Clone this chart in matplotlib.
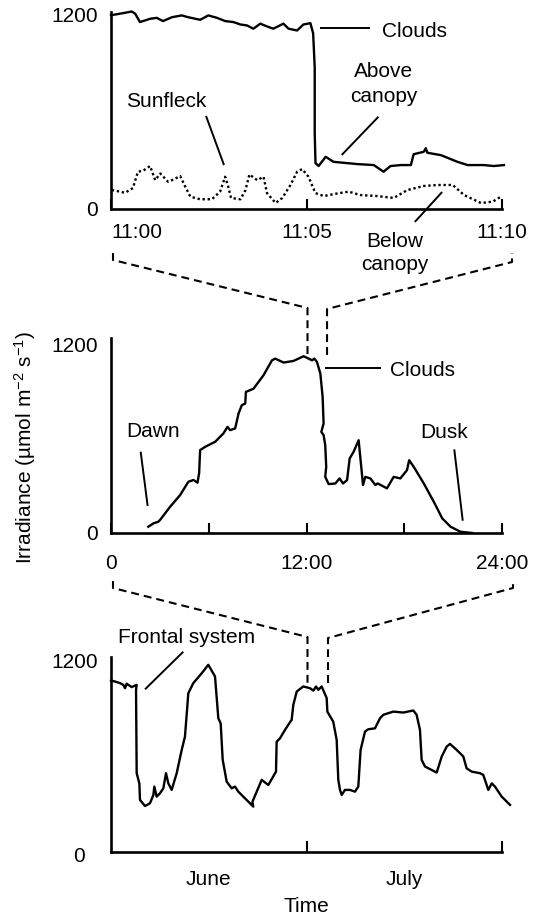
import matplotlib
matplotlib.use('Agg')
import matplotlib.pyplot as plt
from matplotlib.lines import Line2D
import matplotlib.transforms as mtransforms

plt.rcParams['font.family'] = ['Liberation Sans', 'DejaVu Sans']
plt.rcParams['mathtext.fontset'] = 'custom'
plt.rcParams['mathtext.rm'] = 'Liberation Sans'
plt.rcParams['mathtext.it'] = 'Liberation Sans:italic'
plt.rcParams['mathtext.default'] = 'regular'
FS = 15

# ---------------- data ----------------
# Top panel: minutes after 11:00
above_t = [0.00, 0.31, 0.53, 0.62, 0.74, 1.00, 1.17, 1.33, 1.56, 1.81, 1.97, 2.28, 2.49, 2.71,
           2.92, 3.13, 3.31, 3.48, 3.64, 3.82, 3.99, 4.15, 4.41, 4.54, 4.76, 4.92, 5.10, 5.17,
           5.21, 5.21, 5.23, 5.31, 5.49, 5.69, 5.95, 6.30, 6.72, 6.97, 7.15, 7.41, 7.67, 7.74,
           8.00, 8.05, 8.09, 8.44, 8.86, 9.12, 9.54, 9.79, 10.05]
above_v = [1195, 1208, 1218, 1204, 1153, 1173, 1179, 1159, 1183, 1194, 1183, 1167, 1194, 1179,
           1159, 1153, 1138, 1132, 1112, 1143, 1126, 1112, 1143, 1112, 1101, 1138, 1146, 1083,
           874, 467, 283, 265, 322, 291, 285, 277, 271, 230, 265, 271, 271, 338,
           353, 375, 347, 332, 291, 271, 271, 265, 271]
below_t = [0.02, 0.15, 0.36, 0.56, 0.69, 0.82, 1.00, 1.13, 1.26, 1.46, 1.56, 1.77, 1.90, 2.03,
           2.28, 2.58, 2.79, 2.92, 3.00, 3.07, 3.31, 3.44, 3.54, 3.74, 3.90, 3.99, 4.21, 4.38,
           4.59, 4.76, 4.89, 5.05, 5.23, 5.44, 5.79, 6.08, 6.38, 6.81, 7.23, 7.58, 8.00, 8.35,
           8.74, 9.03, 9.46, 9.76, 9.97]
below_v = [117, 111, 100, 129, 230, 236, 265, 178, 219, 168, 178, 203, 137, 76,
           60, 60, 107, 199, 137, 68, 60, 117, 213, 178, 199, 98, 37, 68,
           148, 230, 246, 199, 98, 80, 96, 107, 86, 80, 68, 117, 142, 148,
           148, 86, 37, 45, 76]

# Middle panel: hours of the day
day_h = [2.29, 2.60, 2.91, 3.01, 3.63, 4.24, 4.75, 5.06, 5.31, 5.41, 5.47, 5.78, 6.39, 6.90,
         7.15, 7.31, 7.62, 7.83, 8.03, 8.24, 8.28, 8.75, 9.36, 9.88, 10.08, 10.59, 11.20, 11.82,
         12.13, 12.34, 12.48, 12.64, 12.85, 12.99, 13.05, 12.91, 13.05, 13.15, 13.21, 13.15, 13.36,
         13.77, 14.03, 14.24, 14.49, 14.65, 14.89, 15.20, 15.47, 15.61, 15.92, 16.23, 16.37, 16.94,
         17.35, 17.76, 18.17, 18.30, 18.58, 19.20, 19.81, 20.02, 20.33, 20.84, 21.45, 22.17]
day_v = [40, 61, 72, 83, 167, 241, 326, 337, 320, 381, 527, 548, 580, 633,
         675, 654, 665, 760, 813, 823, 897, 918, 1003, 1098, 1109, 1084, 1094, 1124,
         1109, 1098, 1109, 1088, 1014, 865, 696, 643, 622, 559, 421, 357, 311,
         315, 347, 315, 336, 474, 516, 590, 305, 357, 347, 305, 315, 284,
         357, 347, 400, 463, 421, 315, 199, 157, 93, 40, 8, 0]

# Bottom panel: days (June = 0-30, July = 30-60)
season_d = [0.00, 0.61, 1.38, 1.89, 2.15, 2.41, 3.17, 3.94, 3.84, 3.94, 4.35, 4.45, 5.22, 5.98,
            6.50, 6.65, 7.01, 7.52, 8.03, 8.44, 8.80, 9.31, 10.08, 10.85, 11.35, 11.71, 11.86,
            12.63, 13.92, 14.93, 15.96, 16.47, 16.83, 17.14, 17.75, 18.52, 19.03, 19.54, 21.84,
            21.70, 22.36, 23.12, 24.14, 25.32, 25.42, 25.93, 26.70, 27.20, 27.72, 27.98, 28.50,
            29.50, 30.54, 31.05, 31.46, 31.81, 32.33, 33.10, 33.20, 34.10, 34.63, 34.88, 35.14,
            35.40, 35.90, 36.67, 37.44, 37.95, 38.30, 38.98, 39.48, 40.51, 41.28, 41.79, 43.32,
            44.85, 46.39, 46.90, 47.41, 47.67, 48.18, 49.98, 50.75, 51.51, 52.02, 53.05, 54.06,
            54.58, 55.35, 56.62, 57.13, 57.90, 58.42, 58.92, 59.95, 61.23]
season_v = [1077, 1071, 1061, 1050, 1029, 1057, 1036, 1050, 1019, 495, 431, 327, 289, 306,
            358, 411, 348, 369, 400, 495, 431, 390, 495, 641, 725, 914, 997,
            1061, 1123, 1176, 1103, 840, 808, 579, 442, 400, 411, 379, 285,
            315, 379, 453, 421, 505, 693, 714, 767, 799, 830, 925, 1008,
            1040, 1029, 1014, 1040, 1019, 1040, 966, 882, 819, 704, 453, 390,
            358, 390, 390, 379, 411, 641, 757, 771, 777, 840, 862, 882,
            876, 889, 862, 767, 579, 537, 499, 600, 662, 679, 641, 600,
            525, 505, 495, 484, 390, 431, 411, 348, 296]

top_ticks = [0, 5, 10]
top_ticklabels = ['11:00', '11:05', '11:10']
mid_ticks = [0, 6, 12, 18, 24]
mid_ticklabels = ['0', '', '12:00', '', '24:00']
bot_ticks = [30, 60]
month_pos = [15, 45]
month_labels = ['June', 'July']

# ---------------- figure ----------------
W, H = 536, 916
fig = plt.figure(figsize=(W / 100, H / 100), dpi=100)


def box(l, r, t, b):
    return [l / W, 1 - b / H, (r - l) / W, (b - t) / H]


ax1 = fig.add_axes(box(111, 502, 12, 209))
ax2 = fig.add_axes(box(111, 502, 338, 533))
ax3 = fig.add_axes(box(111, 502, 657, 852))

for ax, ytop in ((ax1, 1215), (ax2, 1240), (ax3, 1225)):
    for s in ('top', 'right'):
        ax.spines[s].set_visible(False)
    for s in ('left', 'bottom'):
        ax.spines[s].set_linewidth(1.9)
    ax.set_ylim(0, ytop)
    ax.set_yticks([0, 1200])
    ax.set_yticklabels(['0', '1200'], fontsize=FS)
    ax.tick_params(axis='y', length=0, pad=9.4)
    ax.patch.set_visible(False)

LW = 1.7
# top
ax1.plot(above_t, above_v, color='black', lw=LW, clip_on=False, solid_joinstyle='round')
ax1.plot(below_t, below_v, color='black', lw=LW, linestyle=(0, (1, 1.15)), clip_on=False)
ax1.set_xlim(0, 10)
ax1.set_xticks(top_ticks)
ax1.set_xticklabels(top_ticklabels, fontsize=FS)
ax1.tick_params(axis='x', direction='in', length=7.2, width=1.5, pad=20.9)
for lab in ax1.get_xticklabels():
    lab.set_va('baseline')
ax1.get_xticklabels()[0].set_ha('left')

# middle
ax2.plot(day_h, day_v, color='black', lw=LW, clip_on=False, solid_joinstyle='round')
ax2.set_xlim(0, 24)
ax2.set_xticks(mid_ticks)
ax2.set_xticklabels(mid_ticklabels, fontsize=FS)
ax2.tick_params(axis='x', direction='in', length=7.2, width=1.5, pad=25.9)
for lab in ax2.get_xticklabels():
    lab.set_va('baseline')

# bottom
ax3.plot(season_d, season_v, color='black', lw=LW, clip_on=False, solid_joinstyle='round')
ax3.set_xlim(0, 60)
ax3.set_xticks(bot_ticks)
ax3.set_xticklabels(['', ''])
ax3.set_yticklabels(['', '1200'], fontsize=FS)
ax3.tick_params(axis='x', which='major', direction='in', length=8, width=1.5)
ax3.set_xticks(month_pos, minor=True)
ax3.set_xticklabels(month_labels, minor=True, fontsize=FS)
ax3.tick_params(axis='x', which='minor', length=0, pad=23.8)
for lab in ax3.get_xticklabels(minor=True):
    lab.set_va('baseline')
ax3.annotate('0', xy=(0, 0), xycoords='axes fraction', xytext=(-18.7, -3.6),
             textcoords='offset points', ha='right', va='center', fontsize=FS)
ax3.annotate('Time', xy=(30, 0), xycoords=('data', 'axes fraction'), xytext=(0, -43),
             textcoords='offset points', ha='center', va='baseline', fontsize=FS)

fig.text(25 / W, 1 - 447 / H, 'Irradiance (µmol m$^{-2}$ s$^{-1}$)', rotation=90,
         ha='center', va='center', fontsize=FS)

# ---------------- annotations ----------------
LL = 1.4
kw = dict(color='black', lw=LL, clip_on=False, solid_capstyle='butt')
# top
ax1.plot([5.35, 6.62], [1115, 1115], **kw)
ax1.text(6.92, 1059, 'Clouds', fontsize=FS, ha='left', va='baseline')
ax1.plot([6.84, 5.90], [569, 333], **kw)
ax1.text(6.98, 812, 'Above', fontsize=FS, ha='center', va='baseline')
ax1.text(6.98, 662, 'canopy', fontsize=FS, ha='center', va='baseline')
ax1.text(1.42, 631, 'Sunfleck', fontsize=FS, ha='center', va='baseline')
ax1.plot([2.43, 2.89], [574, 271], **kw)
ax1.text(7.26, -234, 'Below', fontsize=FS, ha='center', va='baseline')
ax1.text(7.26, -376, 'canopy', fontsize=FS, ha='center', va='baseline')
ax1.plot([8.47, 7.77], [105, -80], **kw)
# middle
ax2.text(0.96, 609, 'Dawn', fontsize=FS, ha='left', va='baseline')
ax2.plot([1.82, 2.25], [517, 172], **kw)
ax2.plot([13.14, 16.56], [1047, 1047], **kw)
ax2.text(17.13, 998, 'Clouds', fontsize=FS, ha='left', va='baseline')
ax2.text(18.97, 602, 'Dusk', fontsize=FS, ha='left', va='baseline')
ax2.plot([21.07, 21.59], [532, 78], **kw)
# bottom
ax3.text(1.03, 1313, 'Frontal system', fontsize=FS, ha='left', va='baseline')
ax3.plot([11.09, 5.22], [1258, 1022], **kw)

# ---------------- dashed connectors ----------------
fig.canvas.draw()
ID = mtransforms.IdentityTransform()


def dx(ax, x):
    return ax.transData.transform((x, 0))[0]


def dy(ax, y):
    return ax.transData.transform((0, y))[1]


dash = dict(color='black', lw=1.5, linestyle=(0, (3.8, 2.4)), transform=ID)
# top -> middle
xl = dx(ax1, 0) + 2
xr = dx(ax1, 10) + 10
xa = dx(ax2, 12) + 1
xb = dx(ax2, 13.26)
yb1 = dy(ax1, 0) - 44
yb2 = dy(ax1, 0) - 51
yc = dy(ax2, 1240) + 30
yv = dy(ax2, 1132)
fig.add_artist(Line2D([xl, xl, xa, xa], [yb1, yb2, yc, yv], **dash))
fig.add_artist(Line2D([xb, xb, xr, xr], [yv, yc - 1, yb2 - 2, yb1], **dash))
# middle -> bottom
xl = dx(ax2, 0) + 2
xr = dx(ax2, 24) + 11
xa = dx(ax3, 30) + 1
xb = dx(ax3, 33.3)
yb1 = dy(ax2, 0) - 48
yb2 = dy(ax2, 0) - 55
yc = dy(ax3, 1225) + 20
yv = dy(ax3, 1062)
fig.add_artist(Line2D([xl, xl, xa, xa], [yb1, yb2, yc, yv], **dash))
fig.add_artist(Line2D([xb, xb, xr, xr], [yv, yc - 1, yb2, yb1], **dash))

fig.savefig('out.png', dpi=100)
